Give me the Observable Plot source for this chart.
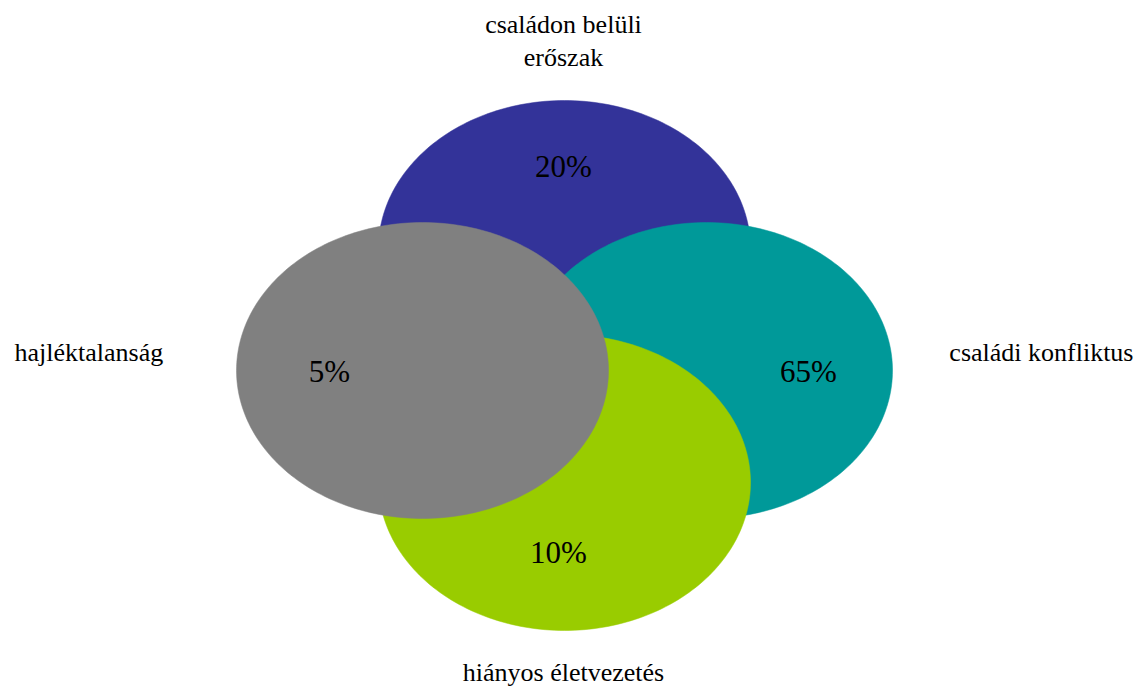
<!DOCTYPE html>
<html>
<head>
<meta charset="utf-8">
<script src="https://cdn.jsdelivr.net/npm/d3@7"></script>
<script src="https://cdn.jsdelivr.net/npm/@observablehq/plot@0.6"></script>
<style>
  html, body { margin: 0; padding: 0; background: #ffffff; }
  #chart { width: 1143px; height: 688px; }
  #chart svg, #chart svg text { font-family: "Liberation Serif", "Tinos", "DejaVu Serif", serif !important; }
</style>
</head>
<body>
<div id="chart"></div>
<script>
// ---- data ----
const categories = ["családon belüli\nerőszak", "családi konfliktus", "hiányos életvezetés", "hajléktalanság"];
const shares = [20, 65, 10, 5];
const colors = ["#333399", "#009999", "#99CC00", "#808080"];

// ---- layout (diagram geometry, drawing order = data order) ----
const W = 1143, H = 688;
const rx = 186, ry = 148;
const centers = [[564, 248], [706, 370], [564, 482], [422, 370]];
const valuePos = [[563, 167], [808, 372], [558, 553], [329, 372]];
const labelPos = [[563, 38, "middle"], [1133, 350, "end"], [563, 670, "middle"], [14, 350, "start"]];

const steps = d3.range(0, 240);
const ellipseMarks = categories.map((c, i) => {
  const [cx, cy] = centers[i];
  const pts = steps.map(k => {
    const t = (k / steps.length) * 2 * Math.PI;
    return {x: cx + rx * Math.cos(t), y: cy + ry * Math.sin(t)};
  });
  return Plot.line(pts, {x: "x", y: "y", fill: colors[i], stroke: colors[i], strokeWidth: 0.5, curve: "linear-closed"});
});

const values = categories.map((c, i) => ({x: valuePos[i][0], y: valuePos[i][1], t: shares[i] + "%"}));
const labels = categories.map((c, i) => ({x: labelPos[i][0], y: labelPos[i][1], a: labelPos[i][2], t: c}));

const plot = Plot.plot({
  width: W,
  height: H,
  margin: 0,
  style: {background: "#ffffff"},
  x: {domain: [0, W], range: [0, W], axis: null},
  y: {domain: [0, H], range: [0, H], axis: null},
  marks: [
    ...ellipseMarks,
    Plot.text(values, {x: "x", y: "y", text: "t", fontSize: 31, fill: "#000000"}),
    ...["start", "middle", "end"].map(a =>
      Plot.text(labels.filter(d => d.a === a), {x: "x", y: "y", text: "t", textAnchor: a, lineAnchor: "middle", lineHeight: 1.27, fontSize: 26, fill: "#000000"})
    )
  ]
});
document.getElementById("chart").appendChild(plot);
</script>
</body>
</html>
